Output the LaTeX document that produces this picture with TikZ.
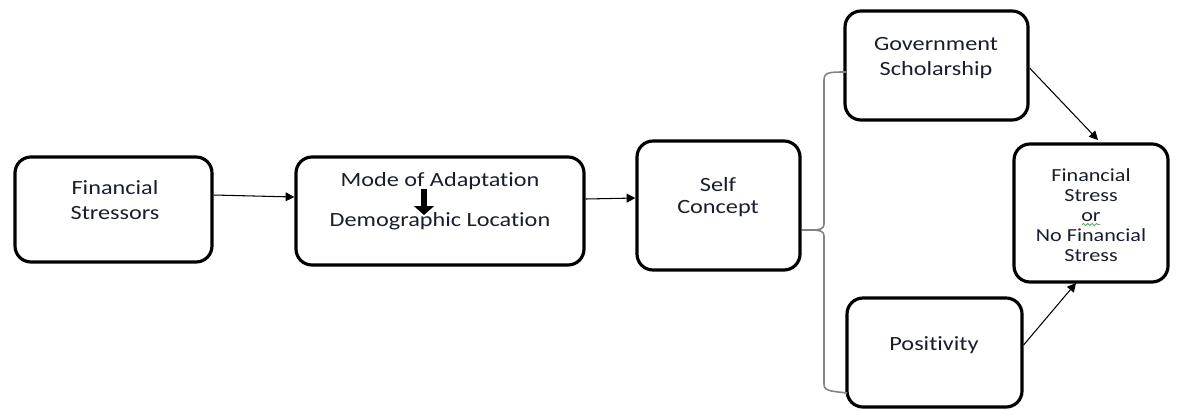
\documentclass[tikz,border=0pt]{standalone}
\usepackage{fontspec}
\setmainfont[FakeStretch=1.2,Ligatures={NoCommon}]{Carlito}
\usetikzlibrary{arrows.meta,decorations.pathmorphing}
\definecolor{txt}{RGB}{25,30,45}
\definecolor{brace}{RGB}{130,130,130}
\definecolor{spell}{RGB}{90,170,90}
\begin{document}
\begin{tikzpicture}[x=0.02cm,y=-0.02cm,
  box/.style={draw=black,line width=1.8pt,rounded corners=0.32cm,inner sep=0pt},
  lbl/.style={text=txt,align=center,inner sep=0pt,font=\fontsize{11.5}{14.5}\selectfont},
  conn/.style={draw=black,line width=0.6pt,-{Triangle[length=5pt,width=5pt]}}]
\useasboundingbox (0,0) rectangle (1182,410);
\node[box,minimum width=197*0.02cm,minimum height=105*0.02cm] (fs) at (113.5,209.5) {};
\node[lbl] (fst) at (115,200) {Financial\\Stressors};
\node[box,minimum width=288*0.02cm,minimum height=108*0.02cm] (ma) at (440,211) {};
\node[lbl] (mat) at (440,181) {Mode of Adaptation};
\node[lbl] (dlt) at (440,221) {Demographic Location};
\node[box,minimum width=163*0.02cm,minimum height=129*0.02cm] (sc) at (718.5,205.5) {};
\node[lbl,font=\fontsize{11.5}{12.5}\selectfont] (sct) at (718,197) {Self\\Concept};
\node[box,minimum width=183*0.02cm,minimum height=109*0.02cm] (gs) at (936.5,65.5) {};
\node[lbl] (gst) at (936,58) {Government\\Scholarship};
\node[box,minimum width=175*0.02cm,minimum height=109*0.02cm] (po) at (934.5,352.5) {};
\node[lbl] (pot) at (934,345) {Positivity};
\node[box,minimum width=154*0.02cm,minimum height=138*0.02cm] (fn) at (1091,213) {};
\node[lbl,font=\fontsize{10.5}{11.3}\selectfont] (fnt) at (1091,215) {Financial\\Stress\\or\\No Financial\\Stress};
\coordinate (w1) at (1082,224.5);
\coordinate (w2) at (1100,224.5);
\draw[spell,line width=0.5pt,decorate,decoration={snake,amplitude=0.6pt,segment length=2.5pt}] (w1) -- (w2);
% arrow inside mode box
\draw[line width=3.4pt,-{Triangle[length=5pt,width=11pt]}] (424,189) coordinate (a1) -- (424,215) coordinate (a2);
% connectors
\draw[conn] (fs.east |- 0,195) -- (ma.west |- 0,197);
\draw[conn] (ma.east |- 0,199) -- (sc.west |- 0,198);
\draw[conn] (gs.east |- 0,68) -- (1098,140);
\draw[conn] (po.east |- 0,345) -- (1076,283);
% bracket
\coordinate (bt) at (846,72);
\coordinate (bb) at (847,393);
\coordinate (bm) at (811,230);
\draw[brace,line width=0.9pt] (bt) .. controls (830,72) and (824,72) .. (824,80) -- (824,224) .. controls (824,229) and (820,230) .. (bm)
  .. controls (820,230) and (824,231) .. (824,236) -- (824,384) .. controls (824,391) and (830,391) .. (bb);
\draw[brace,line width=0.9pt] (sc.east |- bm) -- (bm);
\end{tikzpicture}
\end{document}
